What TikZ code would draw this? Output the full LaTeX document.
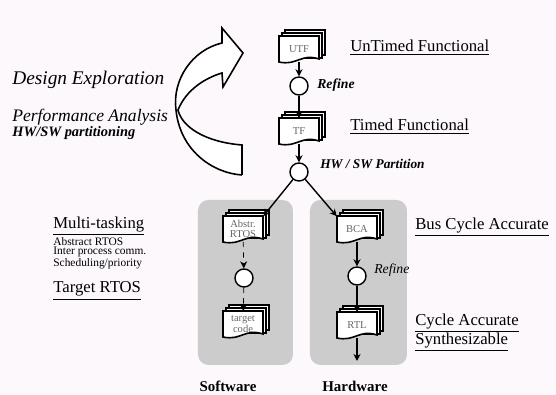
\documentclass[tikz,border=0pt]{standalone}
\usepackage{fontspec}
\setmainfont{Liberation Serif}
\usepackage{xcolor}
\usetikzlibrary{arrows.meta}
\definecolor{paper}{RGB}{252,248,252}
\newcommand{\fs}[1]{\fontsize{#1}{#1}\selectfont}
% a stack of pages with a wavy lower edge, and a named node on it
\newcommand{\docu}[4]{%
  \foreach \o in {6,3} {
    \draw[fill=white, line width=0.9pt] (#2-20+\o, #3-13-\o) rectangle (#2+20+\o, #3+12-\o);
  }
  \draw[fill=white, line width=0.9pt] (#2-20, #3-13) -- (#2+20, #3-13) -- (#2+20, #3+10)
    .. controls (#2+2, #3+4) and (#2-2, #3+17) .. (#2-20, #3+13) -- cycle;
  \node[doctext] (#1) at (#2, #3) {#4};
}

\begin{document}
\begin{tikzpicture}[x=0.02cm, y=-0.02cm, >={Stealth[length=4pt, width=4pt]},
    doctext/.style={font=\fs{6}, text=black!60, align=center, inner sep=0pt,
      minimum width=0.8cm, minimum height=0.5cm},
    ref/.style={draw, circle, fill=white, line width=0.8pt, minimum size=0.36cm, inner sep=0pt},
    level/.style={anchor=west, inner sep=0pt, font=\fs{9.5}},
    side/.style={anchor=west, inner sep=0pt, font=\fs{10}\itshape}]
      \fill[paper] (0, 0) rectangle (556, 395);
      \useasboundingbox (0, 0) rectangle (556, 395);
      \fill[gray!40, rounded corners=6pt] (198, 200) rectangle (293, 365);
      \fill[gray!40, rounded corners=6pt] (310, 200) rectangle (407, 365);
      % big curved arrow
      \draw[fill=white, line width=0.9pt] (242, 175) -- (242, 145)
        .. controls (205, 142) and (182, 127) .. (178, 110)
        .. controls (186, 90) and (205, 78) .. (222, 73)
        -- (223, 87) -- (243, 53) -- (222, 28) -- (222, 43)
        .. controls (192, 50) and (172, 80) .. (176, 110)
        .. controls (180, 150) and (212, 173) .. (242, 175);
      \docu{utf}{299}{49}{UTF}
      \docu{tf}{299}{131}{TF}
      \docu{abs}{243}{229}{Abstr.\\RTOS}
      \docu{tgt}{243}{324}{target\\code}
      \docu{bca}{357}{229}{BCA}
      \docu{rtl}{357}{325}{RTL}
      \node[ref] (R1) at (299, 86) {};
      \node[ref] (P) at (299, 172) {};
      \node[ref] (R2) at (244, 278) {};
      \node[ref] (R3) at (357, 276) {};
      \coordinate (out) at (357, 361);
      \draw[->, line width=0.8pt] (utf) to (R1);
      \draw[->, line width=0.8pt] (R1) to (tf);
      \draw[->, line width=0.8pt] (tf) to (P);
      \draw[->, line width=0.8pt] (P) to (abs.north east);
      \draw[->, line width=0.8pt] (P) to (bca.north west);
      \draw[->, dashed] (abs) to (R2);
      \draw[->, dashed] (R2) to (tgt);
      \draw[->, line width=0.8pt] (bca) to (R3);
      \draw[->, line width=0.8pt] (R3) to (rtl);
      \draw[->, line width=0.8pt] (rtl) to (out);
      \node[anchor=west, inner sep=0pt, font=\fs{7.8}\bfseries\itshape] (refa) at (317, 85) {Refine};
      \node[anchor=west, inner sep=0pt, font=\fs{7.8}\itshape] (refb) at (374, 270) {Refine};
      \node[anchor=west, inner sep=0pt, font=\fs{7.6}\bfseries\itshape] (part) at (320, 164) {HW / SW Partition};
      \node[level] (l1) at (350, 48) {\underline{UnTimed Functional}};
      \node[level] (l2) at (350, 127) {\underline{Timed Functional}};
      \node[level] (l3) at (415, 227) {\underline{Bus Cycle Accurate}};
      \node[level] (l4) at (415, 323) {\underline{Cycle Accurate}};
      \node[level] (l5) at (415, 342) {\underline{Synthesizable}};
      \node[level] (l6) at (53, 226) {\underline{Multi-tasking}};
      \node[anchor=north west, inner sep=0pt, align=left, font=\fontsize{6.5}{5.4}\selectfont] (rtos) at (53, 237)
        {Abstract RTOS\\Inter process comm.\\Scheduling/priority};
      \node[level] (l7) at (53, 291) {\underline{Target RTOS}};
      \node[anchor=west, inner sep=0pt, font=\fs{11}\itshape] (d1) at (12, 80) {Design Exploration};
      \node[side] (d2) at (12, 117) {Performance Analysis};
      \node[anchor=west, inner sep=0pt, font=\fs{8.2}\bfseries\itshape] (d3) at (12, 133) {HW/SW partitioning};
      \node[font=\fs{8.5}\bfseries, inner sep=0pt] (sw) at (228, 386) {Software};
      \node[font=\fs{8.5}\bfseries, inner sep=0pt] (hw) at (355, 386) {Hardware};
    \end{tikzpicture}
\end{document}
